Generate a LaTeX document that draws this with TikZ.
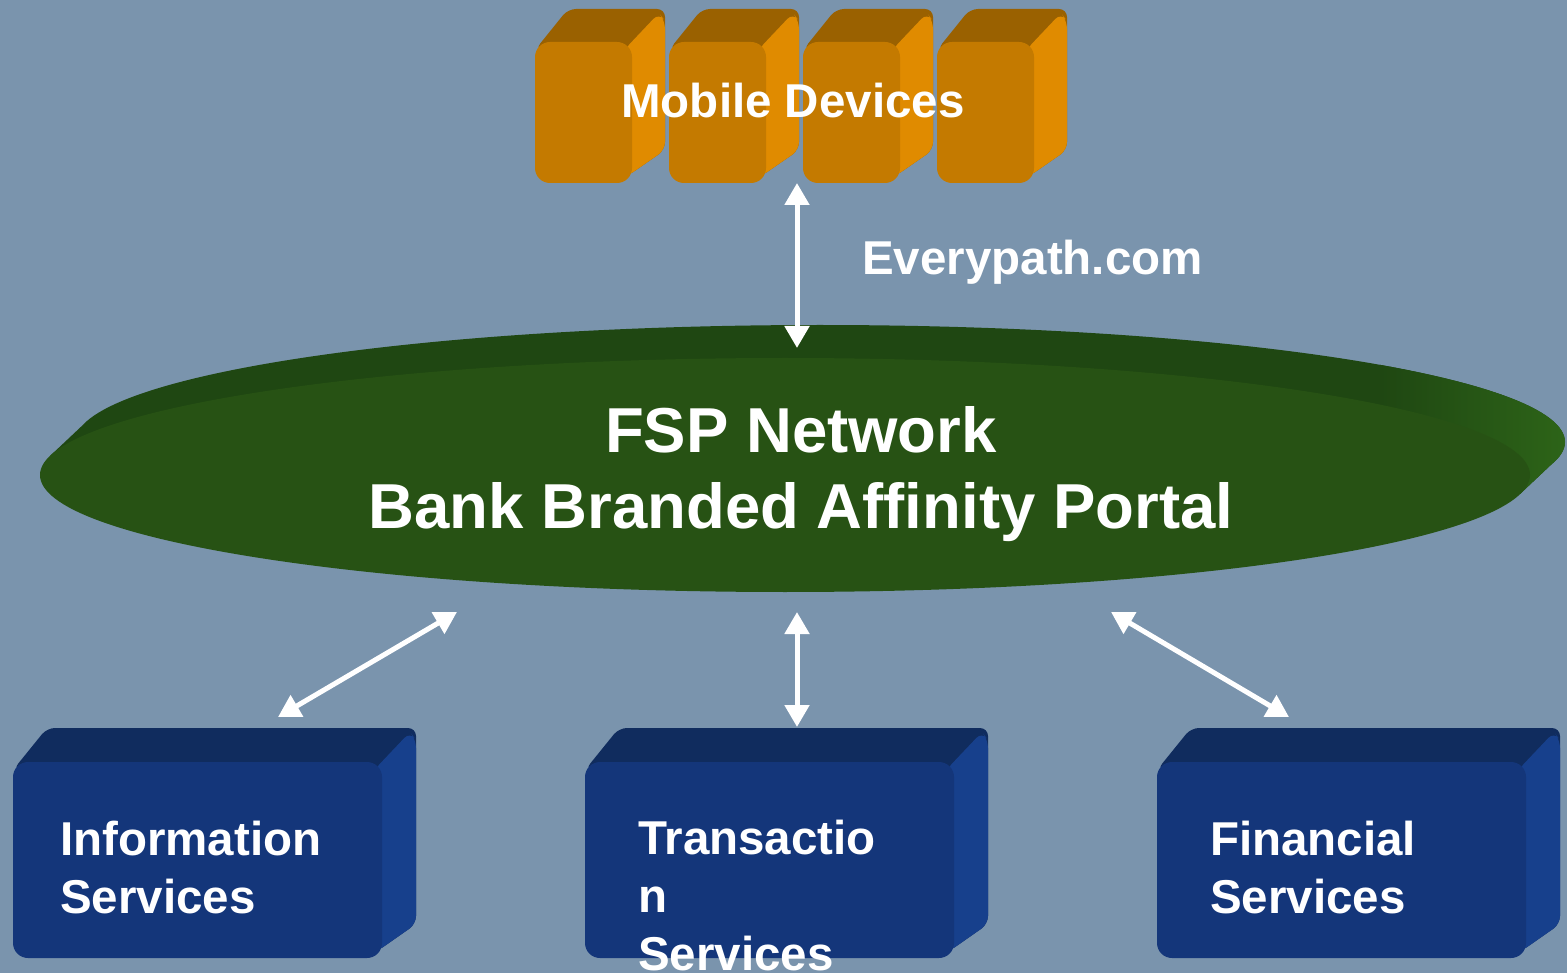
\documentclass[tikz,border=0pt]{standalone}
\usepackage{fontspec}
\setmainfont{Liberation Sans}
\usetikzlibrary{arrows.meta}
\definecolor{bg}{HTML}{7A94AD}
\definecolor{orfront}{HTML}{C47A00}
\definecolor{ortop}{HTML}{9A6100}
\definecolor{orright}{HTML}{E08B00}
\definecolor{blfront}{HTML}{14367A}
\definecolor{bltop}{HTML}{102C5E}
\definecolor{blright}{HTML}{17408C}
\definecolor{grfront}{HTML}{275214}
\definecolor{grback}{HTML}{1F4712}
\definecolor{grrim}{HTML}{2D6418}
% #1 L, #2 T, #3 R, #4 B, #5 depth, #6 front, #7 top, #8 right
\newcommand{\xcuboid}[8]{%
  \fill[#7, rounded corners=8pt] (#1,{#2+8}) -- ({#1+#5},{#2-#5}) -- ({#3+#5},{#2-#5}) -- ({#3+#5},{#4-#5}) -- ({#3-6},{#4-6}) -- ({#3-20},{#2+20}) -- cycle;
  \fill[#8, rounded corners=8pt] ({#3-8},{#2+8}) -- ({#3+#5-6},{#2-#5+4}) -- ({#3+#5},{#2-#5+12}) -- ({#3+#5},{#4-#5}) -- ({#3-6},{#4-6}) -- cycle;
  \fill[#6, rounded corners=15pt] (#1,#2) rectangle (#3,#4);
}
\begin{document}
\begin{tikzpicture}[x=1pt,y=-1pt,
  conn/.style={draw=white, line width=5pt, {Triangle[width=24pt,length=22pt]}-{Triangle[width=24pt,length=22pt]}},
  lbl/.style={text=white, font=\bfseries\fontsize{47.5}{58}\selectfont, inner sep=0pt},
  biglbl/.style={text=white, font=\bfseries\fontsize{63.5}{76}\selectfont, inner sep=0pt, align=center}]
\useasboundingbox (0,0) rectangle (1567,973);
\clip (0,0) rectangle (1567,973);
\fill[bg] (0,0) rectangle (1567,973);

% mobile devices
\foreach \k in {0,1,2,3}{
  \pgfmathsetmacro{\L}{535+134*\k}
  \pgfmathsetmacro{\R}{\L+97}
  \xcuboid{\L}{42}{\R}{183}{33}{orfront}{ortop}{orright}
}
\node[lbl, anchor=base] (mob) at (793,118) {Mobile Devices};

% FSP network disc
\fill[grback]
  (820,442) ellipse [x radius=745, y radius=117]
  (50,456) -- (85,423) -- (1555,461) -- (1520,494) -- cycle;
\begin{scope}
  \clip (820,442) ellipse [x radius=745, y radius=117]
    (50,456) -- (85,423) -- (1555,461) -- (1520,494) -- cycle;
  \shade[left color=grback, right color=grrim] (1380,300) rectangle (1567,520);
\end{scope}
\fill[grfront] (785,475) ellipse [x radius=745, y radius=117];
\node[biglbl, anchor=base] (fsp) at (801,528) {FSP Network\\Bank Branded Affinity Portal};

% service boxes
\xcuboid{13}{762}{382}{958}{34}{blfront}{bltop}{blright}
\xcuboid{585}{762}{954}{958}{34}{blfront}{bltop}{blright}
\xcuboid{1157}{762}{1526}{958}{34}{blfront}{bltop}{blright}
\node[lbl, anchor=base west, align=left] (info) at (60,913) {Information\\Services};
\node[lbl, anchor=base west, align=left] (trans) at (638,970) {Transactio\\n\\Services};
\node[lbl, anchor=base west, align=left] (fin) at (1210,913) {Financial\\Services};

% label
\node[lbl, anchor=base west] (ep) at (862,275) {Everypath.com};

% connector ends
\coordinate (mobB) at (797,183);
\coordinate (fspT) at (797,348);
\coordinate (fspL) at (457,612);
\coordinate (infoT) at (278,717);
\coordinate (fspC) at (797,612);
\coordinate (transT) at (797,727);
\coordinate (fspR) at (1111,612);
\coordinate (finT) at (1289,717);
\draw[conn] (mobB) -- (fspT);
\draw[conn] (fspL) -- (infoT);
\draw[conn] (fspC) -- (transT);
\draw[conn] (fspR) -- (finT);
\end{tikzpicture}
\end{document}
